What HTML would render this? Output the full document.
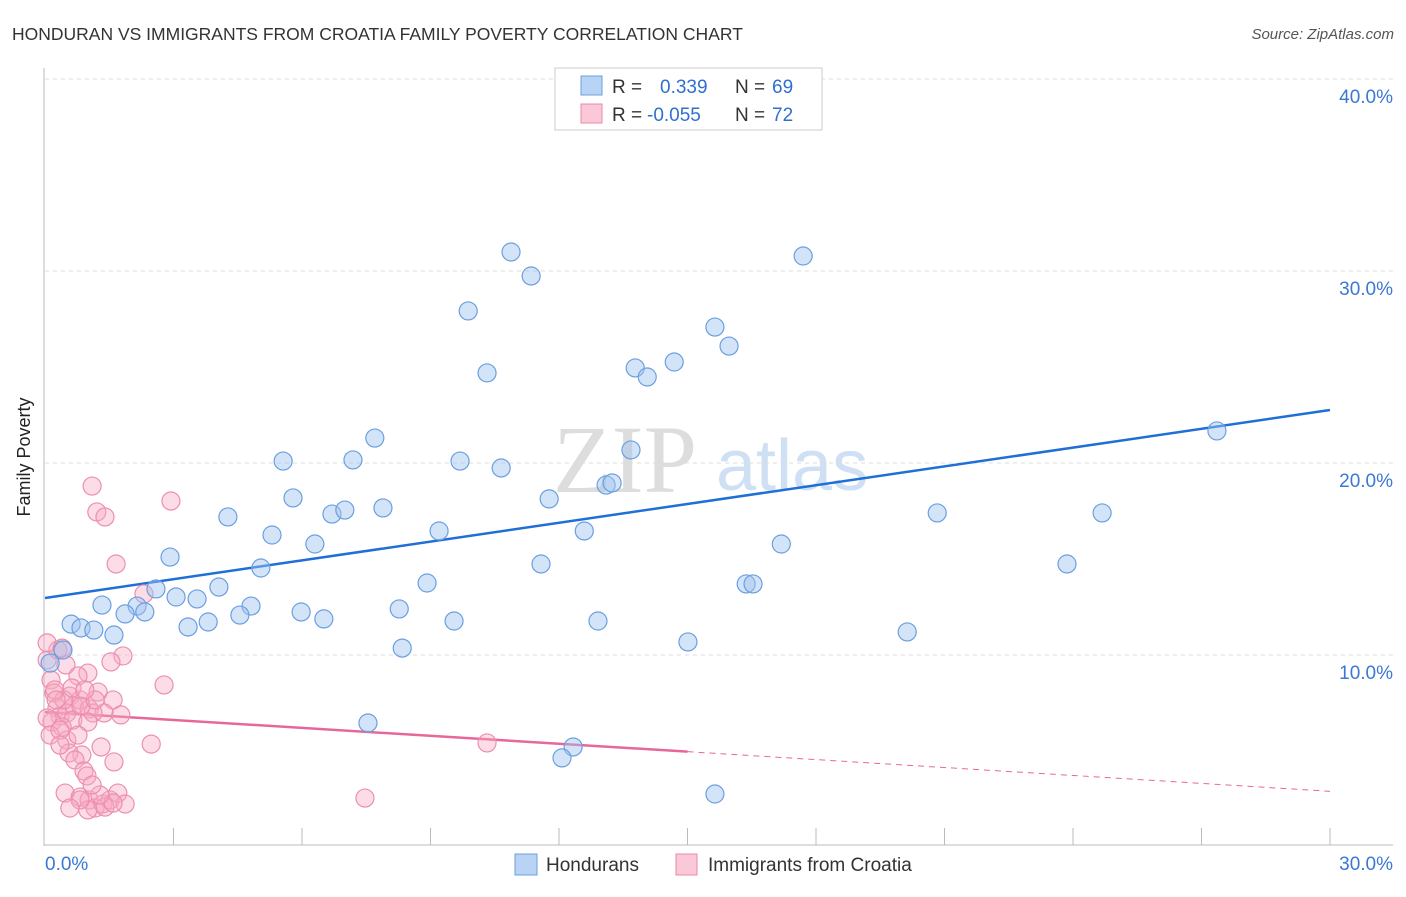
<!DOCTYPE html>
<html><head><meta charset="utf-8"><style>
body{margin:0;background:#fff;font-family:"Liberation Sans",sans-serif}
svg text{font-family:"Liberation Sans",sans-serif}
</style></head><body>
<svg id="chart" width="1406" height="892" xmlns="http://www.w3.org/2000/svg">
<text x="12" y="40" font-size="17.5" fill="#333">HONDURAN VS IMMIGRANTS FROM CROATIA FAMILY POVERTY CORRELATION CHART</text>
<text x="1394" y="39" font-size="15" fill="#555" font-style="italic" text-anchor="end">Source: ZipAtlas.com</text>
<text x="30" y="457" font-size="18" fill="#222" transform="rotate(-90 30 457)" text-anchor="middle">Family Poverty</text>
<g>
<text x="553" y="492" font-size="96" fill="#ddd" font-family="Liberation Serif,serif" style="font-family:'Liberation Serif',serif">ZIP</text>
<text x="716" y="490" font-size="72" fill="#cfe0f5">atlas</text>
</g>
<g id="grid"></g><g id="axes"></g><g id="lines"></g><g id="pts"></g>
<g>
<rect x="555" y="68" width="267" height="62" fill="#fff" stroke="#ccc"/>
<rect x="581" y="76" width="21" height="19" fill="#b9d3f5" stroke="#6a9fe0"/>
<text x="612" y="93" font-size="19" fill="#333">R = </text><text x="660" y="93" font-size="19" fill="#2f6fd0">0.339</text>
<text x="735" y="93" font-size="19" fill="#333">N = </text><text x="772" y="93" font-size="19" fill="#2f6fd0">69</text>
<rect x="581" y="104" width="21" height="19" fill="#fac8d6" stroke="#e98aa8"/>
<text x="612" y="121" font-size="19" fill="#333">R = </text><text x="647" y="121" font-size="19" fill="#2f6fd0">-0.055</text>
<text x="735" y="121" font-size="19" fill="#333">N = </text><text x="772" y="121" font-size="19" fill="#2f6fd0">72</text>
</g>
<g>
<rect x="515" y="854" width="22" height="21" fill="#b9d3f5" stroke="#6a9fe0"/>
<text x="546" y="871" font-size="19" fill="#333">Hondurans</text>
<rect x="676" y="854" width="21" height="21" fill="#fac8d6" stroke="#e98aa8"/>
<text x="708" y="871" font-size="19" fill="#333">Immigrants from Croatia</text>
</g>
</svg>
<script>
const xTicks=[0,30];
const yTicks=[10,20,30,40];
const blueX=[10.88,11.35,17.70,9.88,10.32,15.64,15.97,13.78,14.06,14.69,27.36,7.70,5.56,7.19,9.69,10.65,13.68,5.79,11.77,13.10,13.24,4.27,6.70,7.00,7.89,9.20,20.83,24.68,5.30,6.30,12.59,17.19,2.92,5.04,11.58,23.86,2.59,4.06,8.92,3.06,3.55,1.33,2.15,2.33,4.81,1.87,4.55,5.98,8.27,6.51,3.34,3.81,9.55,12.91,0.61,0.84,1.14,1.61,15.01,20.13,8.34,0.42,0.12,16.37,16.53,7.54,12.33,12.07,15.64];
const blueY=[30.99,29.74,30.78,27.92,24.69,27.08,26.09,24.95,24.48,25.26,21.67,21.30,20.10,20.16,20.10,19.74,20.68,18.18,18.13,18.85,18.96,17.19,17.34,17.55,17.66,16.46,17.40,17.40,16.25,15.78,16.46,15.78,15.10,14.53,14.74,14.74,13.44,13.54,13.75,13.02,12.92,12.60,12.55,12.24,12.55,12.14,12.08,12.24,12.40,11.88,11.46,11.72,11.77,11.77,11.61,11.41,11.30,11.04,10.68,11.20,10.36,10.26,9.58,13.70,13.70,6.46,5.21,4.64,2.76];
const pinkX=[1.10,2.94,1.21,1.40,1.66,2.31,2.78,2.48,10.32,7.47,0.05,0.30,0.05,0.40,0.49,0.14,1.00,0.77,1.82,1.54,0.21,0.58,0.82,1.24,1.59,0.28,0.68,1.03,1.38,1.77,0.35,0.51,0.65,0.16,0.40,0.05,1.12,0.84,1.00,0.51,0.86,1.31,0.56,0.70,1.61,0.91,0.98,0.47,0.82,1.03,1.17,1.35,1.52,1.70,1.87,1.40,1.59,1.00,0.82,0.44,0.12,0.23,0.35,0.63,1.17,0.93,0.35,0.77,1.28,0.58,1.10,0.26];
const pinkY=[18.80,18.02,17.45,17.19,14.74,13.18,8.44,5.36,5.42,2.55,9.74,10.26,10.63,10.36,9.48,8.70,9.06,8.91,9.95,9.64,8.02,7.86,7.66,8.07,7.66,7.24,7.34,7.19,6.98,6.88,6.82,6.98,6.61,6.51,6.25,6.72,6.98,7.34,6.51,5.57,4.79,5.21,4.90,4.53,4.43,3.96,3.70,2.81,2.60,2.45,2.03,2.24,2.45,2.81,2.24,2.08,2.29,1.93,2.45,7.66,5.83,8.18,6.09,8.28,7.66,8.18,5.31,5.83,2.71,2.03,3.23,7.66];
const blueTrend=[12.97,22.76];
const pinkTrend=[7.03,2.9];
const pinkSolidEnd=15;
const NS='http://www.w3.org/2000/svg';
const X=v=>45+v/30*1285, Y=v=>847-v*19.2;
function mk(tag,attrs,parent){const e=document.createElementNS(NS,tag);for(const k in attrs)e.setAttribute(k,attrs[k]);parent.appendChild(e);return e;}
const grid=document.getElementById('grid'),axes=document.getElementById('axes'),lines=document.getElementById('lines'),pts=document.getElementById('pts');
yTicks.forEach(t=>{
 const l=mk('line',{x1:45,x2:1393,y1:Y(t),y2:Y(t),stroke:'#ddd','stroke-dasharray':'4,4'},grid);
 
 
 const tx=mk('text',{x:1393,y:Y(t)+24,'font-size':19,fill:'#3a78d4','text-anchor':'end'},grid);
 tx.textContent=t.toFixed(1)+'%';
 
 
});
const ax=mk('line',{x1:44,x2:44,y1:68,y2:846,stroke:'#bbb'},axes);


const bx=mk('line',{x1:44,x2:1393,y1:845,y2:845,stroke:'#bbb'},axes);


for(let i=1;i<=10;i++){const tk=mk('line',{x1:X(i*3),x2:X(i*3),y1:828,y2:845,stroke:'#bbb'},axes);
 
 }
xTicks.forEach((t,i)=>{const tx=mk('text',{x:i==0?45:1393,y:870,'font-size':19,fill:'#3a78d4','text-anchor':i==0?'start':'end'},axes);
 tx.textContent=t.toFixed(1)+'%';
 
 });
function dots(xs,ys,fill,stroke,name){xs.forEach((v,i)=>{const c=mk('circle',{cx:X(v),cy:Y(ys[i]),r:9,fill:fill,stroke:stroke,'stroke-width':1.2},pts);
 
 });}
dots(pinkX,pinkY,'rgba(248,170,195,0.4)','#ec8fae','croatia-point');
dots(blueX,blueY,'rgba(160,196,240,0.45)','#6a9fe0','honduran-point');
const bl=mk('line',{x1:X(0),y1:Y(blueTrend[0]),x2:X(30),y2:Y(blueTrend[1]),stroke:'#1f6fd6','stroke-width':2.5},lines);


const py=v=>pinkTrend[0]+(pinkTrend[1]-pinkTrend[0])*v/30;
const pl=mk('line',{x1:X(0),y1:Y(pinkTrend[0]),x2:X(pinkSolidEnd),y2:Y(py(pinkSolidEnd)),stroke:'#e8679a','stroke-width':2.5},lines);


const pd=mk('line',{x1:X(pinkSolidEnd),y1:Y(py(pinkSolidEnd)),x2:X(30),y2:Y(pinkTrend[1]),stroke:'#e8679a','stroke-width':1,'stroke-dasharray':'6,5'},lines);


</script>
</body></html>
